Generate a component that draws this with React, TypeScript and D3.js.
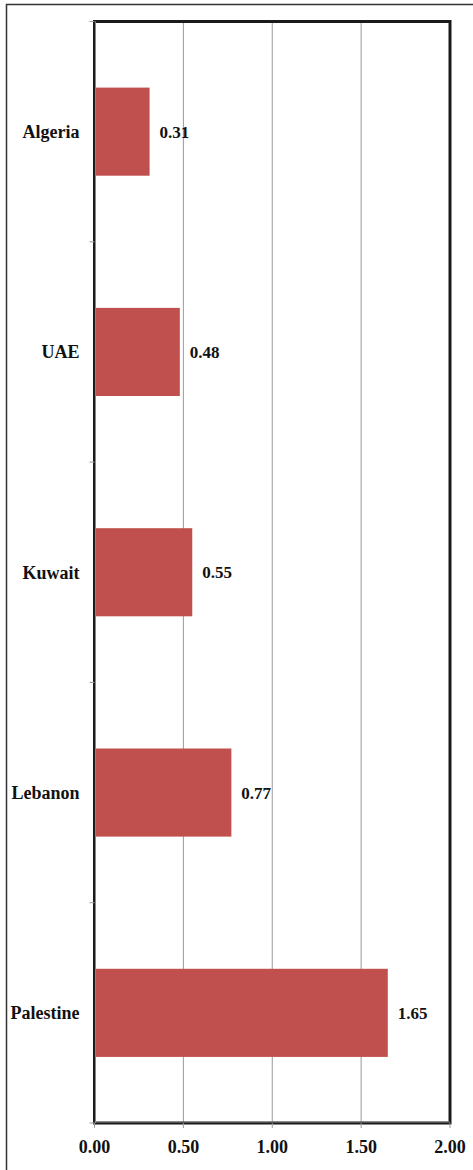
import React, { useRef, useEffect } from 'react';
import * as d3 from 'd3';

const countries = ['Algeria', 'UAE', 'Kuwait', 'Lebanon', 'Palestine'];
const values = [0.31, 0.48, 0.55, 0.77, 1.65];
const xTicks = [0, 0.5, 1, 1.5, 2];

const W = 473;
const H = 1170;
const margin = { top: 21.5, right: 22, bottom: 47, left: 94.5 };

const App = () => {
  const ref = useRef<SVGSVGElement | null>(null);

  useEffect(() => {
    if (!ref.current) return;
    const svg = d3.select(ref.current);
    svg.selectAll('*').remove();

    const x = d3
      .scaleLinear()
      .domain([0, 2])
      .range([margin.left, W - margin.right - 1]);
    const y = d3
      .scaleBand()
      .domain(countries)
      .range([margin.top, H - margin.bottom])
      .paddingInner(0.6)
      .paddingOuter(0.3);

    const plotBottom = H - margin.bottom;
    const plotRight = x(2);
    const font = 'Liberation Serif, DejaVu Serif, serif';

    // outer frame
    svg
      .append('rect')
      .attr('x', 6.5)
      .attr('y', 4.5)
      .attr('width', 500)
      .attr('height', 1200)
      .attr('fill', 'none')
      .attr('stroke', '#333')
      .attr('stroke-width', 1.5);

    // gridlines
    svg
      .selectAll('.grid')
      .data(xTicks.slice(1, -1))
      .enter()
      .append('line')
      .attr('x1', (d) => x(d))
      .attr('x2', (d) => x(d))
      .attr('y1', margin.top)
      .attr('y2', plotBottom)
      .attr('stroke', '#9a9a9a')
      .attr('stroke-width', 1);

    // bars
    svg
      .selectAll('.bar')
      .data(countries)
      .enter()
      .append('rect')
      .attr('x', x(0))
      .attr('y', (d) => y(d) ?? 0)
      .attr('width', (d, i) => x(values[i]) - x(0))
      .attr('height', y.bandwidth())
      .attr('fill', '#C0504D');

    // plot border
    svg
      .append('rect')
      .attr('x', margin.left)
      .attr('y', margin.top)
      .attr('width', plotRight - margin.left)
      .attr('height', plotBottom - margin.top)
      .attr('fill', 'none')
      .attr('stroke', '#1a1a1a')
      .attr('stroke-width', 3);

    // axis lines (gray inner line)
    svg
      .append('line')
      .attr('x1', margin.left + 1)
      .attr('x2', margin.left + 1)
      .attr('y1', margin.top)
      .attr('y2', plotBottom)
      .attr('stroke', '#888')
      .attr('stroke-width', 1);
    svg
      .append('line')
      .attr('x1', margin.left)
      .attr('x2', plotRight)
      .attr('y1', plotBottom - 1)
      .attr('y2', plotBottom - 1)
      .attr('stroke', '#888')
      .attr('stroke-width', 1);

    // category tick marks
    const step = y.step();
    const bounds = d3.range(countries.length + 1).map((i) => margin.top + i * step);
    svg
      .selectAll('.ytick')
      .data(bounds)
      .enter()
      .append('line')
      .attr('x1', margin.left - 5)
      .attr('x2', margin.left)
      .attr('y1', (d) => d)
      .attr('y2', (d) => d)
      .attr('stroke', '#999')
      .attr('stroke-width', 1);

    // x tick marks
    svg
      .selectAll('.xtick')
      .data(xTicks)
      .enter()
      .append('line')
      .attr('x1', (d) => x(d))
      .attr('x2', (d) => x(d))
      .attr('y1', plotBottom)
      .attr('y2', plotBottom + 5)
      .attr('stroke', '#999')
      .attr('stroke-width', 1);

    // x tick labels
    svg
      .selectAll('.xlabel')
      .data(xTicks)
      .enter()
      .append('text')
      .attr('x', (d) => x(d))
      .attr('y', plotBottom + 30)
      .attr('text-anchor', 'middle')
      .attr('font-family', font)
      .attr('font-weight', 'bold')
      .attr('font-size', 18)
      .attr('fill', '#111')
      .text((d) => d3.format('.2f')(d));

    // category labels
    svg
      .selectAll('.ylabel')
      .data(countries)
      .enter()
      .append('text')
      .attr('x', margin.left - 15)
      .attr('y', (d) => (y(d) ?? 0) + y.bandwidth() / 2)
      .attr('dy', '0.35em')
      .attr('text-anchor', 'end')
      .attr('font-family', font)
      .attr('font-weight', 'bold')
      .attr('font-size', 18)
      .attr('fill', '#111')
      .text((d) => d);

    // value labels
    svg
      .selectAll('.vlabel')
      .data(countries)
      .enter()
      .append('text')
      .attr('x', (d, i) => x(values[i]) + 10)
      .attr('y', (d) => (y(d) ?? 0) + y.bandwidth() / 2)
      .attr('dy', '0.35em')
      .attr('font-family', font)
      .attr('font-weight', 'bold')
      .attr('font-size', 17)
      .attr('fill', '#111')
      .text((d, i) => d3.format('.2f')(values[i]));
  }, []);

  return (
    <svg
      ref={ref}
      width={W}
      height={H}
      style={{ position: 'absolute', left: 0, top: 0, background: '#fff', display: 'block' }}
    />
  );
};

export default App;
